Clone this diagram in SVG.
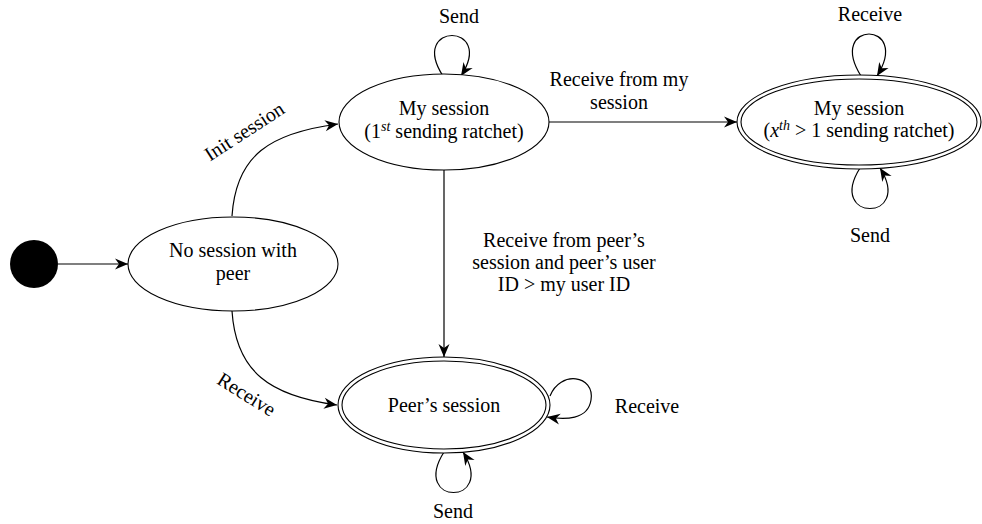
<svg xmlns="http://www.w3.org/2000/svg" width="982" height="524" viewBox="0 0 982 524">
  <defs>
    <marker id="stealth" markerUnits="userSpaceOnUse" markerWidth="16" markerHeight="14" viewBox="-14 -7 16 14" refX="0" refY="0" orient="auto">
      <path d="M0,0 L-13,-5.5 L-9,0 L-13,5.5 Z" fill="#000"/>
    </marker>
  </defs>
  <style>
    .state { fill: #fff; stroke: #000; stroke-width: 1.1; }
    .inner { fill: none; stroke: #000; stroke-width: 1.1; }
    .edge { fill: none; stroke: #000; stroke-width: 1.2; marker-end: url(#stealth); }
    text { font-family: "Liberation Serif", "Times New Roman", serif; font-size: 20px; fill: #000; text-anchor: middle; }
    .sup { font-size: 14px; font-style: italic; }
    .it { font-style: italic; }
  </style>

  <rect width="982" height="524" fill="#fff"/>

  <!-- connectors -->
  <g id="connectors">
    <line class="edge" x1="58" y1="264" x2="128" y2="264"/>
    <path class="edge" d="M232,216 C236,155 270,133 338,124"/>
    <path class="edge" d="M232,311 C236,372 270,396 337,405"/>
    <line class="edge" x1="549" y1="122" x2="737" y2="122"/>
    <line class="edge" x1="444" y1="170" x2="444" y2="357"/>
    <!-- self loops -->
    <path class="edge" d="M443,76 C408,22 496,22 461,76"/>
    <path class="edge" d="M861,76 C826,20 912,20 877,76"/>
    <path class="edge" d="M860,168 C826,222 914,222 880,168"/>
    <path class="edge" d="M444,452 C410,506 497,506 463,452"/>
    <path class="edge" d="M550,396 C560,370 595,375 591,400 C588,420 565,420 547,417"/>

    <!-- labels -->
    <text transform="translate(248,137) rotate(-33)">Init session</text>
    <text transform="translate(243,400) rotate(32)">Receive</text>
    <text x="619" y="86">Receive from my</text>
    <text x="619" y="109">session</text>
    <text x="564" y="247">Receive from peer’s</text>
    <text x="564" y="269">session and peer’s user</text>
    <text x="564" y="291">ID &gt; my user ID</text>
    <text x="459" y="23">Send</text>
    <text x="870" y="21">Receive</text>
    <text x="870" y="242">Send</text>
    <text x="453" y="518">Send</text>
    <text x="647" y="413">Receive</text>
  </g>

  <!-- initial pseudo-state -->
  <g id="start">
    <circle cx="34" cy="264" r="24" fill="#000"/>
  </g>

  <g id="no-session">
    <ellipse class="state" cx="233" cy="264" rx="105" ry="47"/>
    <text x="233" y="257">No session with</text>
    <text x="233" y="280">peer</text>
  </g>

  <g id="my-session-first">
    <ellipse class="state" cx="444" cy="122" rx="105" ry="48"/>
    <text x="444" y="115">My session</text>
    <text x="444" y="138">(1<tspan class="sup" dy="-7">st</tspan><tspan dy="7"> sending ratchet)</tspan></text>
  </g>

  <g id="my-session-later">
    <ellipse class="state" cx="859" cy="122" rx="122" ry="47"/>
    <ellipse class="inner" cx="859" cy="122" rx="118" ry="43"/>
    <text x="859" y="115">My session</text>
    <text x="859" y="137">(<tspan class="it">x</tspan><tspan class="sup" dy="-7">th</tspan><tspan dy="7"> &gt; 1 sending ratchet)</tspan></text>
  </g>

  <g id="peer-session">
    <ellipse class="state" cx="444" cy="405" rx="106" ry="48"/>
    <ellipse class="inner" cx="444" cy="405" rx="102" ry="44"/>
    <text x="444" y="412">Peer’s session</text>
  </g>
</svg>
